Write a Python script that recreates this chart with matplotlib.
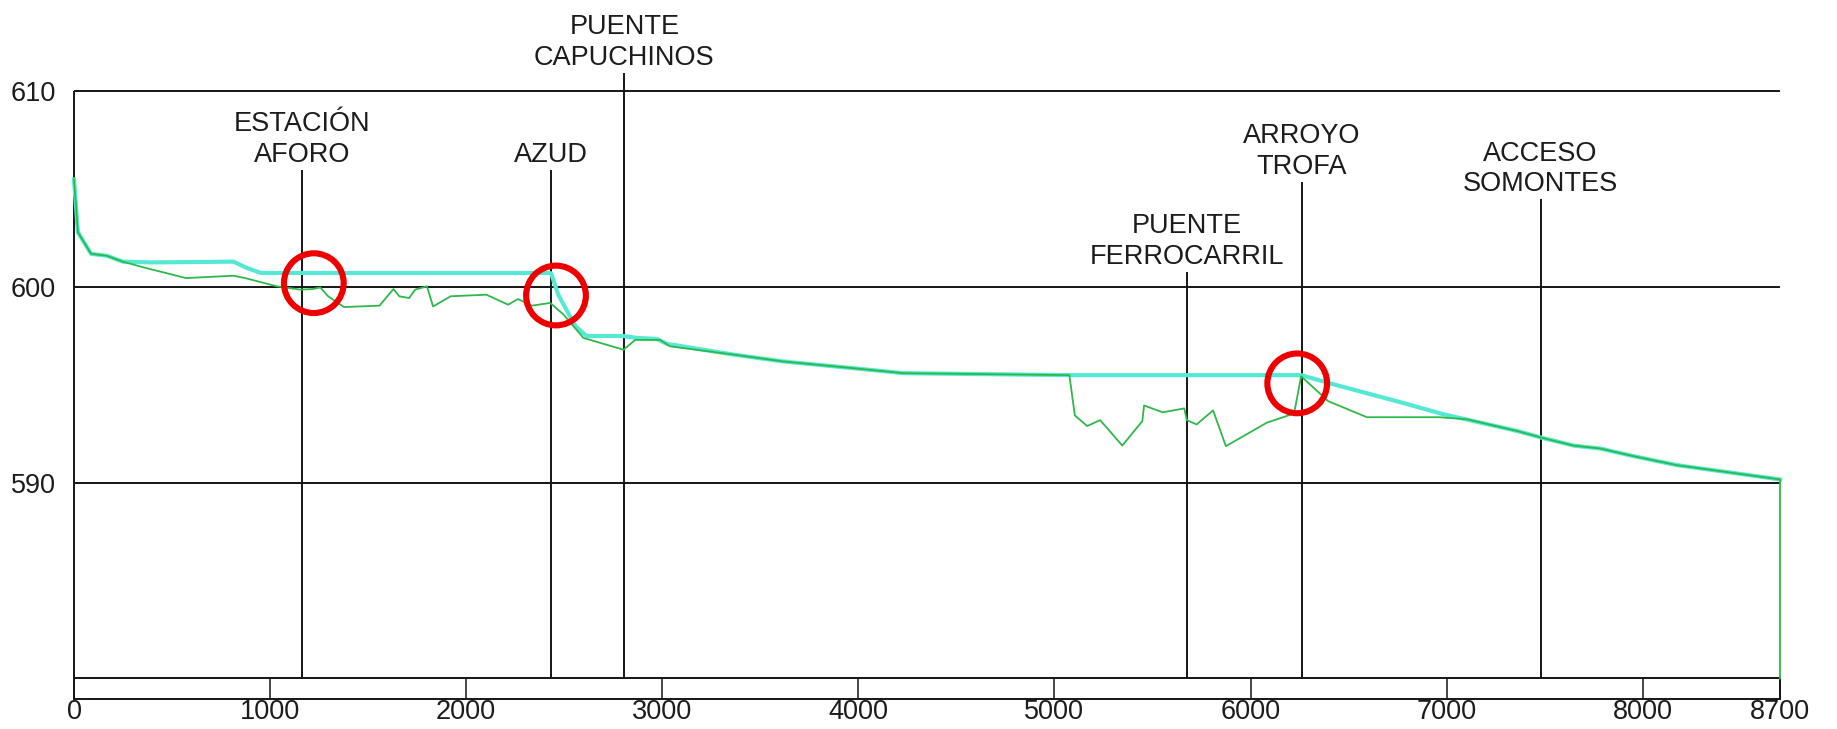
import matplotlib
matplotlib.use("Agg")
import matplotlib.pyplot as plt

plt.rcParams['font.family'] = ['Liberation Sans', 'DejaVu Sans']

# distancia (m) / cota (m) de la lamina de agua
x_lamina = [0, 20, 87, 168, 248, 389, 813, 883, 954, 2425, 2433, 2470, 2557,
            2615, 2802, 2870, 2972, 3023, 3363, 3616, 3958, 4230, 5076, 6258,
            6405, 6763, 6984, 7358, 7486, 7647, 7783, 7953, 8174, 8463, 8700]
z_lamina = [605.5, 602.8, 601.7, 601.6, 601.3, 601.26, 601.3, 600.97, 600.72,
            600.72, 600.7, 599.6, 598.0, 597.5, 597.5, 597.4, 597.35, 597.1,
            596.55, 596.2, 595.87, 595.6, 595.5, 595.5, 595.08, 594.12, 593.5,
            592.65, 592.3, 591.9, 591.75, 591.36, 590.9, 590.5, 590.17]

# distancia (m) / cota (m) del fondo del cauce
x_fondo = [0, 20, 87, 168, 248, 369, 571, 813, 873, 1034, 1155, 1216, 1256,
           1296, 1377, 1558, 1629, 1659, 1709, 1740, 1800, 1831, 1921, 2103,
           2214, 2264, 2335, 2428, 2496, 2598, 2802, 2862, 2989, 3040, 3363,
           3616, 3958, 4230, 5076, 5104, 5167, 5233, 5346, 5448, 5457, 5552,
           5662, 5675, 5725, 5809, 5874, 6083, 6222, 6258, 6396, 6593, 6960,
           7100, 7358, 7486, 7647, 7783, 7953, 8174, 8463, 8700, 8700]
z_fondo = [605.5, 602.8, 601.7, 601.6, 601.3, 600.97, 600.46, 600.58, 600.46,
           600.04, 599.87, 599.9, 599.98, 599.53, 598.98, 599.05, 599.9, 599.53,
           599.44, 599.87, 600.04, 599.01, 599.53, 599.61, 599.1, 599.39, 599.05,
           599.19, 598.6, 597.4, 596.8, 597.3, 597.3, 596.97, 596.55, 596.2,
           595.87, 595.6, 595.5, 593.44, 592.9, 593.2, 591.9, 593.15, 593.95,
           593.6, 593.8, 593.2, 592.98, 593.7, 591.87, 593.07, 593.54, 595.44,
           594.17, 593.35, 593.35, 593.25, 592.65, 592.3, 591.9, 591.75, 591.36,
           590.9, 590.5, 590.17, 580.0]

# puntos singulares del tramo
hitos = ['ESTACIÓN\nAFORO', 'AZUD', 'PUENTE\nCAPUCHINOS', 'PUENTE\nFERROCARRIL',
         'ARROYO\nTROFA', 'ACCESO\nSOMONTES']
x_hitos = [1165, 2432, 2807, 5675, 6260, 7479]
z_hitos = [606.0, 606.0, 610.96, 600.78, 605.39, 604.49]

# zonas marcadas
x_marcas = [1223, 2458, 6238]
z_marcas = [600.2, 599.57, 595.08]

x_ticks = [0, 1000, 2000, 3000, 4000, 5000, 6000, 7000, 8000, 8700]
y_ticks = [590, 600, 610]

YLO = 578.95
YHI = 614.67
LINE = '#151515'
TXT = '#1c1c1c'

fig = plt.figure(figsize=(18.37, 7.29), dpi=100)
ax = fig.add_axes([74 / 1837, 30 / 729, 1706 / 1837, 699 / 729])
ax.set_xlim(0, 8700)
ax.set_ylim(YLO, YHI)

for s in ['top', 'right', 'left']:
    ax.spines[s].set_visible(False)
ax.spines['bottom'].set_linewidth(1.4)
ax.spines['bottom'].set_color(LINE)

# cuadricula y marco
ax.hlines([580, 590, 600, 610], 0, 8700, color=LINE, lw=1.4, zorder=2,
          clip_on=False)
ax.vlines(0, YLO, 610, color=LINE, lw=1.4, zorder=2, clip_on=False)
ax.vlines(8700, YLO, 580, color=LINE, lw=1.4, zorder=2, clip_on=False)

# lineas verticales de los hitos
ax.vlines(x_hitos, 580, z_hitos, color=LINE, lw=1.4, zorder=2, clip_on=False)
for name, xh, zh in zip(hitos, x_hitos, z_hitos):
    ax.annotate(name, xy=(xh, zh), xytext=(0, 1.5), textcoords='offset points',
                ha='center', va='bottom', multialignment='center',
                fontsize=19.5, color=TXT, linespacing=1.22,
                annotation_clip=False)

# perfiles
ax.plot(x_lamina, z_lamina, color='#55e8d4', lw=3.0, zorder=3,
        solid_joinstyle='round', clip_on=False)
ax.plot(x_fondo, z_fondo, color='#2fb84a', lw=1.3, zorder=4,
        solid_joinstyle='round', clip_on=False)

ax.scatter(x_marcas, z_marcas, s=1850, facecolors='none', edgecolors='#ee0000',
           linewidths=4.4, zorder=6, clip_on=False)

ax.set_xticks(x_ticks)
ax.set_xticklabels([str(v) for v in x_ticks])
ax.tick_params(axis='x', direction='in', length=14.8, width=1.1, color=LINE,
               pad=0, labelsize=19.5, labelcolor=TXT)
ax.set_yticks(y_ticks)
ax.set_yticklabels([str(v) for v in y_ticks])
ax.tick_params(axis='y', length=0, pad=13, labelsize=19.5, labelcolor=TXT)

fig.savefig('out.png', dpi=100)
